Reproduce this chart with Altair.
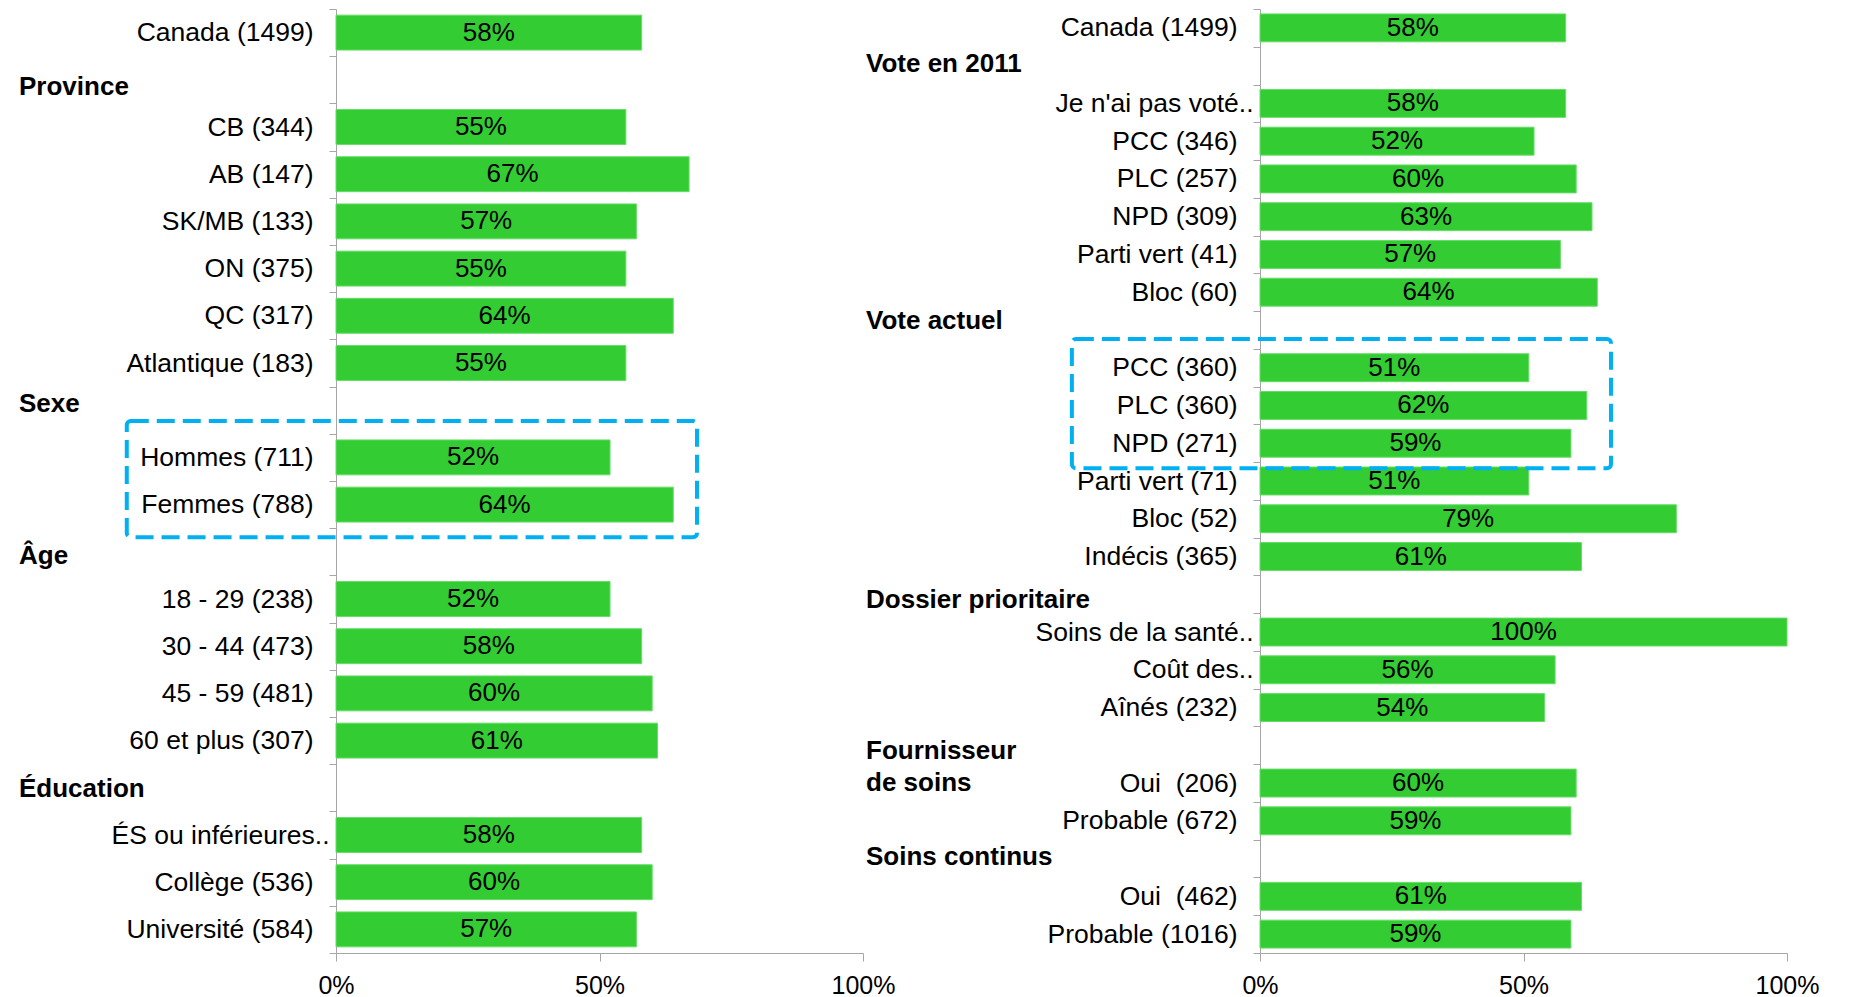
import json
import altair as alt
import pandas as pd

# ---------------- data ----------------
left_rows = [
    "Canada (1499)", "Province", "CB (344)", "AB (147)", "SK/MB (133)", "ON (375)",
    "QC (317)", "Atlantique (183)", "Sexe", "Hommes (711)", "Femmes (788)", "Âge",
    "18 - 29 (238)", "30 - 44 (473)", "45 - 59 (481)", "60 et plus (307)", "Éducation",
    "ÉS ou inférieures..", "Collège (536)", "Université (584)",
]
left_headers = ["Province", "Sexe", "Âge", "Éducation"]
left_categories = [
    "Canada (1499)", "CB (344)", "AB (147)", "SK/MB (133)", "ON (375)", "QC (317)",
    "Atlantique (183)", "Hommes (711)", "Femmes (788)", "18 - 29 (238)", "30 - 44 (473)",
    "45 - 59 (481)", "60 et plus (307)", "ÉS ou inférieures..", "Collège (536)",
    "Université (584)",
]
left_values = [58, 55, 67, 57, 55, 64, 55, 52, 64, 52, 58, 60, 61, 58, 60, 57]

right_rows = [
    "Canada (1499)", "Vote en 2011", "Je n'ai pas voté..", "PCC (346)", "PLC (257)",
    "NPD (309)", "Parti vert (41)", "Bloc (60)", "Vote actuel", "PCC (360)", "PLC (360)",
    "NPD (271)", "Parti vert (71)", "Bloc (52)", "Indécis (365)", "Dossier prioritaire",
    "Soins de la santé..", "Coût des..", "Aînés (232)", "Fournisseur de soins",
    "Oui\u00a0 (206)", "Probable (672)", "Soins continus", "Oui\u00a0 (462)", "Probable (1016)",
]
right_headers = ["Vote en 2011", "Vote actuel", "Dossier prioritaire",
                 "Fournisseur de soins", "Soins continus"]
right_categories = [
    "Canada (1499)", "Je n'ai pas voté..", "PCC (346)", "PLC (257)", "NPD (309)",
    "Parti vert (41)", "Bloc (60)", "PCC (360)", "PLC (360)", "NPD (271)",
    "Parti vert (71)", "Bloc (52)", "Indécis (365)", "Soins de la santé..", "Coût des..",
    "Aînés (232)", "Oui\u00a0 (206)", "Probable (672)", "Oui\u00a0 (462)", "Probable (1016)",
]
right_values = [58, 58, 52, 60, 63, 57, 64, 51, 62, 59, 51, 79, 61, 100, 56, 54, 60, 59, 61, 59]

# header texts as printed, and where they sit (row units from the top)
left_header_texts = ["Province", "Sexe", "Âge", "Éducation"]
left_header_pos = [1.65, 8.36, 11.59, 16.53]
right_header_texts = ["Vote en 2011", "Vote actuel", "Dossier prioritaire",
                      "Fournisseur\nde soins", "Soins continus"]
right_header_pos = [1.46, 8.27, 15.65, 19.66, 22.46]
# header left edge, in percent units of the x axis
left_header_x = -60.15
right_header_x = -74.76

# highlight boxes: x in percent units, y in row units counted from the top
left_box_x = [-39.7, 68.5]
left_box_rows = [8.73, 11.19]
right_box_x = [-35.7, 66.6]
right_box_rows = [8.74, 12.16]

# ---------------- style ----------------
BAR = "#33CC33"
BAR_EDGE = "#66DD66"
GREY = "#A6A6A6"
BOX = "#00B0F0"
FONT = "Liberation Sans"
PW, PH = 527, 944
GAP = 0.13  # half of the empty space between bars, as a share of one row


def panel(rows, headers, cats, vals, htexts, hpos, hx, box_x, box_rows):
    n = len(rows)
    df = pd.DataFrame({"row": cats, "value": vals,
                       "idx": [rows.index(c) for c in cats]})
    df["label"] = df["value"].astype(str) + "%"
    rows_js = json.dumps(rows, ensure_ascii=False)
    heads_js = json.dumps(headers, ensure_ascii=False)
    # truncated labels (ending in "..") run closer to the axis than the others
    trunc_js = json.dumps([i for i, r in enumerate(rows) if r.endswith("..")])
    lab = f"{rows_js}[datum.value]"
    yaxis = alt.Axis(
        title=None, values=list(range(n + 1)), grid=False,
        domainColor=GREY, tickColor=GREY, tickSize=7,
        labelFont=FONT, labelFontSize=26.5, labelColor="black", labelLimit=1000,
        labelOverlap=False, labelOffset=PH / n / 2, labelBaseline="middle",
        labelPadding={"condition": {"test": f"indexof({trunc_js}, datum.value) >= 0",
                                    "value": 0}, "value": 16},
        labelExpr=f"(datum.value < {n} && indexof({heads_js}, {lab}) < 0) ? {lab} : ''",
    )
    xaxis = alt.Axis(
        title=None, values=[0, 50, 100], labelExpr="datum.value + '%'", grid=False,
        domainColor=GREY, tickColor=GREY, tickSize=8, labelFont=FONT, labelFontSize=25,
        labelColor="black", labelPadding=12, labelFlush=False,
    )
    xscale = alt.Scale(domain=[0, 100], nice=False)
    rscale = alt.Scale(domain=[0, n], reverse=True, nice=False, zero=False)

    base = alt.Chart(df).transform_calculate(
        top=f"datum.idx + {GAP}", bottom=f"datum.idx + 1 - {GAP}",
        mid_y="datum.idx + 0.5", mid_x="datum.value / 2", zero="0",
    )
    bars = base.mark_rect(color=BAR, stroke=BAR_EDGE, strokeWidth=1).encode(
        x=alt.X("zero:Q", scale=xscale, axis=xaxis),
        x2="value:Q",
        y=alt.Y("top:Q", scale=rscale, axis=yaxis),
        y2="bottom:Q",
    )
    text = base.mark_text(
        font=FONT, fontSize=26, color="black", align="center", baseline="middle"
    ).encode(
        x=alt.X("mid_x:Q", scale=xscale, axis=xaxis),
        y=alt.Y("mid_y:Q", scale=rscale, axis=yaxis),
        text="label:N",
    )
    box_df = pd.DataFrame({"x": [box_x[0]], "x2": [box_x[1]],
                           "y": [box_rows[0]], "y2": [box_rows[1]]})
    box = alt.Chart(box_df).mark_rect(
        fillOpacity=0, stroke=BOX, strokeWidth=4, strokeDash=[18, 8], cornerRadius=4
    ).encode(
        x=alt.X("x:Q", scale=xscale, axis=xaxis),
        x2="x2:Q",
        y=alt.Y("y:Q", scale=rscale, axis=yaxis),
        y2="y2:Q",
    )
    hdf = pd.DataFrame({"text": htexts, "pos": hpos, "x": [hx] * len(htexts)})
    heads = alt.Chart(hdf).mark_text(
        font=FONT, fontSize=26, fontWeight="bold", color="black", align="left",
        baseline="middle", lineBreak="\n", lineHeight=32
    ).encode(
        x=alt.X("x:Q", scale=xscale, axis=xaxis),
        y=alt.Y("pos:Q", scale=rscale, axis=yaxis),
        text="text:N",
    )
    return alt.layer(bars, text, box, heads).properties(width=PW, height=PH)


left = panel(left_rows, left_headers, left_categories, left_values,
             left_header_texts, left_header_pos, left_header_x, left_box_x, left_box_rows)
right = panel(right_rows, right_headers, right_categories, right_values,
              right_header_texts, right_header_pos, right_header_x, right_box_x, right_box_rows)

chart = alt.hconcat(left, right, spacing=397, bounds="flush").properties(
    padding={"left": 11, "top": 0, "right": 10, "bottom": 0}
).configure(font=FONT).configure_view(stroke=None)

chart.save("out.html", embed_options={"renderer": "svg", "actions": False})
